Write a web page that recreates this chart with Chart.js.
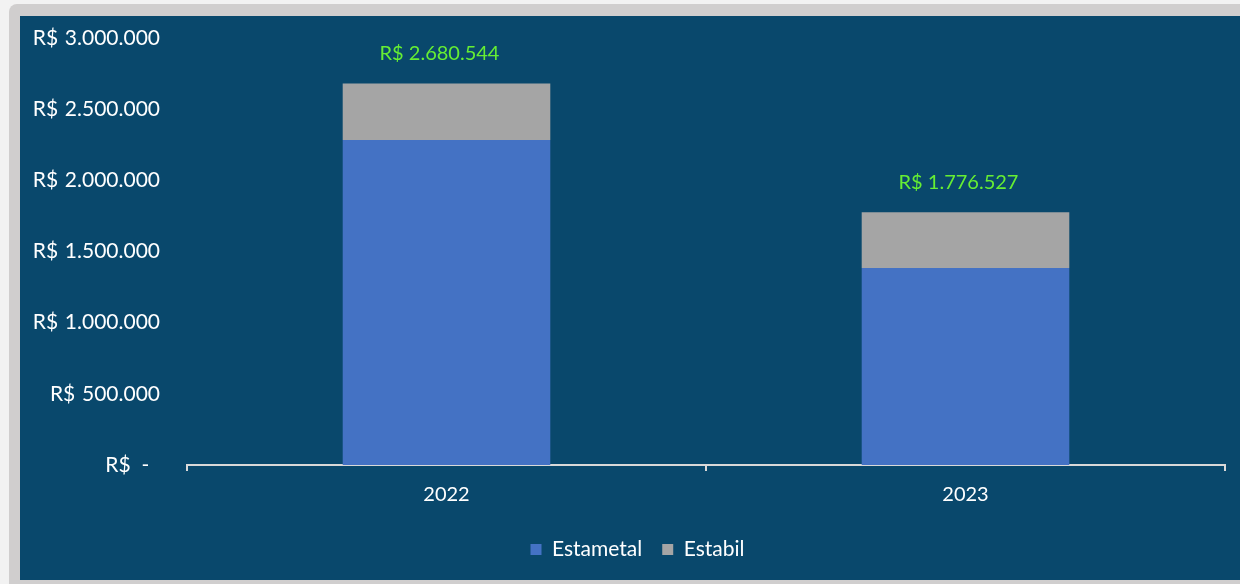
<!DOCTYPE html>
<html>
<head>
<meta charset="utf-8">
<script src="https://cdn.jsdelivr.net/npm/chart.js@4.4.1/dist/chart.umd.min.js"></script>
<style>
  html, body { margin: 0; padding: 0; background: #f2f2f2; width: 1240px; height: 584px; overflow: hidden; }
  .frame { position: absolute; left: 9px; top: 4px; width: 1260px; height: 600px; background: #d0cece; border-radius: 8px; }
  .panel { position: absolute; left: 20px; top: 16px; width: 1220px; height: 564px; background: #09486c; }
</style>
</head>
<body>
<div class="frame"></div>
<div class="panel"><canvas id="chart" width="1220" height="564"></canvas></div>
<script>
const years = ['2022', '2023'];
const estametal = [2283000, 1384000];
const estabil = [397544, 392527];
const yTicks = [0, 500000, 1000000, 1500000, 2000000, 2500000, 3000000];
const yTickLabels = [
  'R$\u00a0\u00a0-\u00a0\u00a0',
  'R$\u00a0\u200a500.000',
  'R$\u00a0\u200a1.000.000',
  'R$\u00a0\u200a1.500.000',
  'R$\u00a0\u200a2.000.000',
  'R$\u00a0\u200a2.500.000',
  'R$\u00a0\u200a3.000.000'
];

const fontFamily = 'Lato, "Open Sans", sans-serif';

function brl(v) {
  return 'R$ ' + String(Math.round(v)).replace(/\B(?=(\d{3})+(?!\d))/g, '.');
}

// total value above each stacked bar
const totalLabels = {
  id: 'totalLabels',
  afterDatasetsDraw(chart) {
    const { ctx, scales } = chart;
    ctx.save();
    ctx.font = '20px ' + fontFamily;
    ctx.fillStyle = '#66ee33';
    ctx.textAlign = 'center';
    ctx.textBaseline = 'middle';
    years.forEach((y, i) => {
      const total = estametal[i] + estabil[i];
      const x = scales.x.getPixelForValue(i);
      const top = scales.y.getPixelForValue(total);
      ctx.fillText(brl(total), x - 7, top - 30);
    });
    ctx.restore();
  }
};

// legend sits a bit right of the canvas centre
const legendShift = {
  id: 'legendShift',
  afterLayout(chart) {
    chart.legend.left += 15;
    chart.legend.right += 15;
  }
};

new Chart(document.getElementById('chart'), {
  type: 'bar',
  data: {
    labels: years,
    datasets: [
      { label: 'Estametal', data: estametal, backgroundColor: '#4472c4', borderWidth: 0 },
      { label: 'Estabil', data: estabil, backgroundColor: '#a5a5a5', borderWidth: 0 }
    ]
  },
  options: {
    responsive: false,
    animation: false,
    categoryPercentage: 0.8,
    barPercentage: 0.5,
    layout: { padding: { top: 22, right: 15, bottom: 10, left: 0 } },
    plugins: {
      tooltip: { enabled: false },
      legend: {
        position: 'bottom',
        labels: {
          color: '#ffffff',
          font: { family: fontFamily, size: 21 },
          boxWidth: 11,
          boxHeight: 11,
          padding: 20
        }
      }
    },
    scales: {
      x: {
        stacked: true,
        border: { display: true, color: '#d9d9d9', width: 2 },
        grid: { display: true, drawOnChartArea: false, color: '#d9d9d9', lineWidth: 2, tickLength: 6 },
        ticks: { color: '#ffffff', font: { family: fontFamily, size: 20 }, padding: 12 },
        afterFit: (s) => { s.height = 54; }
      },
      y: {
        stacked: true,
        min: 0,
        max: 3000000,
        border: { display: false },
        grid: { display: false },
        afterBuildTicks: (s) => { s.ticks = yTicks.map(v => ({ value: v })); },
        ticks: {
          color: '#ffffff',
          font: { family: fontFamily, size: 21 },
          padding: 19,
          callback: (v) => yTickLabels[yTicks.indexOf(v)]
        },
        afterFit: (s) => {
          s.width = 167;
          s.paddingTop = 0;
          s.paddingBottom = 0;
        }
      }
    }
  },
  plugins: [totalLabels, legendShift]
});
</script>
</body>
</html>
